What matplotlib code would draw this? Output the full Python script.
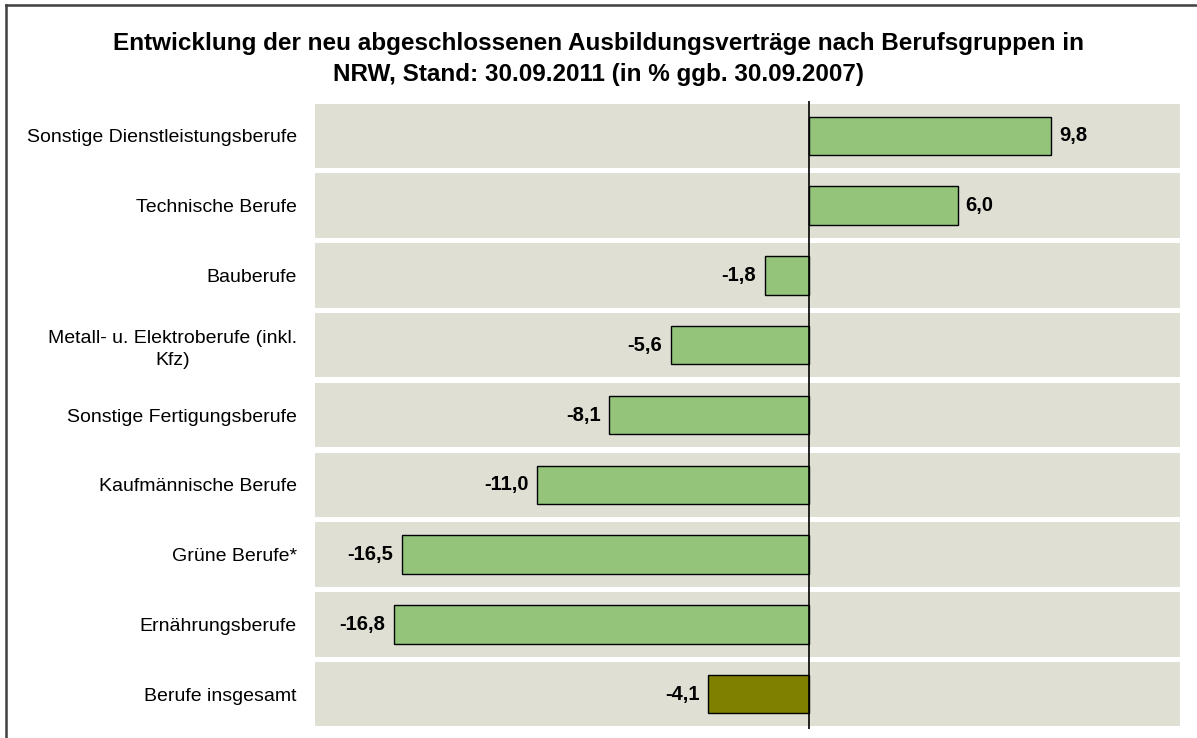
import matplotlib
matplotlib.use("Agg")

import matplotlib.pyplot as plt
from matplotlib.lines import Line2D

plt.rcParams["font.family"] = ["Liberation Sans", "DejaVu Sans"]

categories = [
    "Sonstige Dienstleistungsberufe",
    "Technische Berufe",
    "Bauberufe",
    "Metall- u. Elektroberufe (inkl.\nKfz)",
    "Sonstige Fertigungsberufe",
    "Kaufmännische Berufe",
    "Grüne Berufe*",
    "Ernährungsberufe",
    "Berufe insgesamt",
]
values = [9.8, 6.0, -1.8, -5.6, -8.1, -11.0, -16.5, -16.8, -4.1]
value_labels = ["9,8", "6,0", "-1,8", "-5,6", "-8,1", "-11,0", "-16,5", "-16,8", "-4,1"]

title = ("Entwicklung der neu abgeschlossenen Ausbildungsverträge nach Berufsgruppen in\n"
         "NRW, Stand: 30.09.2011 (in % ggb. 30.09.2007)")

GREEN = "#93C47A"
OLIVE = "#808000"
BAND = "#DFE0D3"

fig = plt.figure(figsize=(11.97, 7.38), dpi=100)
ax = fig.add_axes([315 / 1197, 1 - 729 / 738, 865 / 1197, 628 / 738])

xmin, xmax = -20, 15
ax.set_xlim(xmin, xmax)
ax.set_ylim(len(categories) - 0.5, -0.5)

pos = list(range(len(categories)))

# background bands per row
ax.barh(pos, [xmax - xmin] * len(pos), left=xmin, height=0.924, color=BAND, zorder=0)

colors = [GREEN] * (len(values) - 1) + [OLIVE]
ax.barh(pos, values, height=0.55, color=colors, edgecolor="black", linewidth=1.0, zorder=2)

for p, v, lab in zip(pos, values, value_labels):
    off = 0.3 if v >= 0 else -0.35
    ax.text(v + off, p, lab, ha="left" if v >= 0 else "right", va="center",
            fontsize=14.5, fontweight="bold", zorder=3)

ax.axvline(0, color="black", linewidth=1.2, zorder=3)

ax.set_yticks(pos)
ax.set_yticklabels(categories, fontsize=14, multialignment="center", linespacing=1.35)
ax.tick_params(axis="y", length=0, pad=13)
ax.set_xticks([])
for s in ax.spines.values():
    s.set_visible(False)

fig.text(0.5, 1 - 59 / 738, title, ha="center", va="center", fontsize=17.5,
         fontweight="bold", linespacing=1.4)

# outer frame (top and left visible)
fig.add_artist(Line2D([6 / 1197, 1.0], [1 - 5 / 738, 1 - 5 / 738], color="#404040", linewidth=1.8))
fig.add_artist(Line2D([6 / 1197, 6 / 1197], [0.0, 1 - 5 / 738], color="#404040", linewidth=1.8))

fig.savefig("out.png", dpi=100)
